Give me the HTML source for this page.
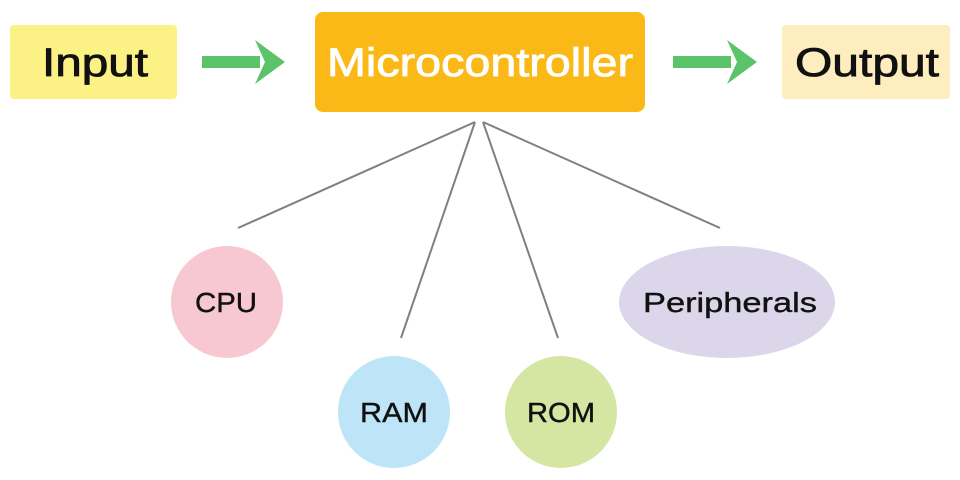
<!DOCTYPE html>
<html><head><style>
html,body{margin:0;padding:0;background:#fff;}
svg{display:block;}
text{font-family:"Liberation Sans","DejaVu Sans",sans-serif;}
</style></head><body>
<svg width="960" height="480" viewBox="0 0 960 480" xmlns="http://www.w3.org/2000/svg">
<rect x="10" y="25" width="167" height="74" rx="4" fill="#fcf185"/>
<text x="42" y="76" font-size="40" stroke="#111" stroke-width="0.8" textLength="106" lengthAdjust="spacingAndGlyphs" fill="#111">Input</text>
<rect x="315" y="12" width="330" height="100" rx="8" fill="#fbb918"/>
<text x="327" y="76" font-size="40" stroke="#fff" stroke-width="0.8" textLength="306" lengthAdjust="spacingAndGlyphs" fill="#fff">Microcontroller</text>
<rect x="782" y="25" width="168" height="74" rx="4" fill="#fdedbf"/>
<text x="795" y="76" font-size="40" stroke="#111" stroke-width="0.8" textLength="144" lengthAdjust="spacingAndGlyphs" fill="#111">Output</text>
<g fill="#5bc46a">
<rect x="202" y="56" width="58" height="12"/>
<polygon points="255,40 285,62 255,84 265,62"/>
<rect x="673" y="56" width="58" height="12"/>
<polygon points="727,40 757,62 727,84 737,62"/>
</g>
<g stroke="#808080" stroke-width="2">
<line x1="475" y1="122" x2="238" y2="228"/>
<line x1="475" y1="122" x2="401" y2="338"/>
<line x1="483" y1="122" x2="558" y2="338"/>
<line x1="483" y1="122" x2="720" y2="228"/>
</g>
<circle cx="227" cy="302" r="56" fill="#f8c8d2"/>
<text x="195" y="312" font-size="28" stroke="#111" stroke-width="0.4" textLength="62" lengthAdjust="spacingAndGlyphs" fill="#111">CPU</text>
<circle cx="394" cy="412" r="56" fill="#bde4f7"/>
<text x="360" y="422" font-size="28" stroke="#111" stroke-width="0.4" textLength="68" lengthAdjust="spacingAndGlyphs" fill="#111">RAM</text>
<circle cx="561" cy="412" r="56" fill="#d5e6a3"/>
<text x="527" y="422" font-size="28" stroke="#111" stroke-width="0.4" textLength="68" lengthAdjust="spacingAndGlyphs" fill="#111">ROM</text>
<ellipse cx="727" cy="302" rx="108" ry="56" fill="#dcd6ea"/>
<text x="643" y="312" font-size="28" stroke="#111" stroke-width="0.4" textLength="174" lengthAdjust="spacingAndGlyphs" fill="#111">Peripherals</text>
</svg>
</body></html>
